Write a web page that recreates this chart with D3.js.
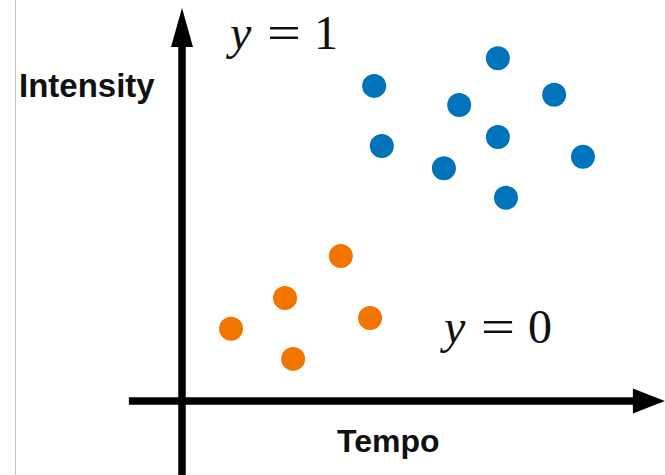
<!DOCTYPE html>
<html>
<head>
<meta charset="utf-8">
<script src="https://cdn.jsdelivr.net/npm/d3@7"></script>
<style>
  body { margin: 0; background: #fff; }
  svg { display: block; }
</style>
</head>
<body>
<div id="chart"></div>
<script>
// class y = 1 (blue) and y = 0 (orange), in axis units (tempo, intensity)
var positiveTempo = [4.27, 7.02, 6.16, 8.27, 4.44, 7.02, 5.82, 8.91, 7.20];
var positiveIntensity = [8.08, 8.79, 7.59, 7.85, 6.54, 6.77, 5.97, 6.26, 5.21];
var negativeTempo = [3.53, 2.29, 1.09, 4.18, 2.47];
var negativeIntensity = [3.72, 2.64, 1.85, 2.13, 1.08];

var width = 665, height = 475;

var svg = d3.select("#chart")
    .append("svg")
    .attr("width", width)
    .attr("height", height);

var x = d3.scaleLinear().domain([0, 10]).range([182, 632]);
var y = d3.scaleLinear().domain([0, 10]).range([401, 11]);

// thin page edge on the left
svg.append("line")
    .attr("x1", 15.5).attr("x2", 15.5)
    .attr("y1", 0).attr("y2", height)
    .attr("stroke", "#c4c4c4")
    .attr("stroke-width", 1);

// axes with arrow heads
var axisWidth = 7.5;
var xStart = -1.18, xTip = 10.73;
var yStart = -2, yTip = 10.08;

svg.append("line")
    .attr("x1", x(xStart)).attr("x2", x(xTip) - 30)
    .attr("y1", y(0)).attr("y2", y(0))
    .attr("stroke", "#000")
    .attr("stroke-width", axisWidth);

svg.append("path")
    .attr("d", "M" + x(xTip) + "," + y(0) +
        "L" + (x(xTip) - 32) + "," + (y(0) - 12.5) +
        "L" + (x(xTip) - 32) + "," + (y(0) + 12.5) + "Z")
    .attr("fill", "#000");

svg.append("line")
    .attr("x1", x(0)).attr("x2", x(0))
    .attr("y1", y(yStart)).attr("y2", y(yTip) + 36)
    .attr("stroke", "#000")
    .attr("stroke-width", axisWidth);

svg.append("path")
    .attr("d", "M" + x(0) + "," + y(yTip) +
        "L" + (x(0) - 11) + "," + (y(yTip) + 39) +
        "L" + (x(0) + 11) + "," + (y(yTip) + 39) + "Z")
    .attr("fill", "#000");

// points
var positive = positiveTempo.map(function (d, i) { return { t: d, v: positiveIntensity[i] }; });
var negative = negativeTempo.map(function (d, i) { return { t: d, v: negativeIntensity[i] }; });

svg.selectAll(".pos")
    .data(positive)
    .enter().append("circle")
    .attr("class", "pos")
    .attr("cx", function (d) { return x(d.t); })
    .attr("cy", function (d) { return y(d.v); })
    .attr("r", 12)
    .attr("fill", "#0073BA");

svg.selectAll(".neg")
    .data(negative)
    .enter().append("circle")
    .attr("class", "neg")
    .attr("cx", function (d) { return x(d.t); })
    .attr("cy", function (d) { return y(d.v); })
    .attr("r", 12)
    .attr("fill", "#F27500");

// axis labels
svg.append("text")
    .attr("x", 19).attr("y", 97)
    .attr("font-family", "Liberation Sans, Arial, sans-serif")
    .attr("font-weight", "bold")
    .attr("font-size", 33)
    .attr("fill", "#111")
    .text("Intensity");

svg.append("text")
    .attr("x", 337).attr("y", 452)
    .attr("font-family", "Liberation Sans, Arial, sans-serif")
    .attr("font-weight", "bold")
    .attr("font-size", 32)
    .attr("fill", "#111")
    .text("Tempo");

// class labels, "y = 1" and "y = 0"
function mathLabel(x0, baseline, digit) {
    var g = svg.append("g").attr("font-family", "Liberation Serif, Times New Roman, serif")
        .attr("font-size", 48).attr("fill", "#111");
    g.append("text")
        .attr("x", x0).attr("y", baseline)
        .attr("font-style", "italic")
        .text("y");
    g.append("text")
        .attr("x", x0 + 37).attr("y", baseline)
        .attr("textLength", 34)
        .attr("lengthAdjust", "spacingAndGlyphs")
        .text("=");
    g.append("text")
        .attr("x", x0 + 84).attr("y", baseline)
        .text(digit);
}

mathLabel(230, 49, "1");
mathLabel(444, 343, "0");
</script>
</body>
</html>
